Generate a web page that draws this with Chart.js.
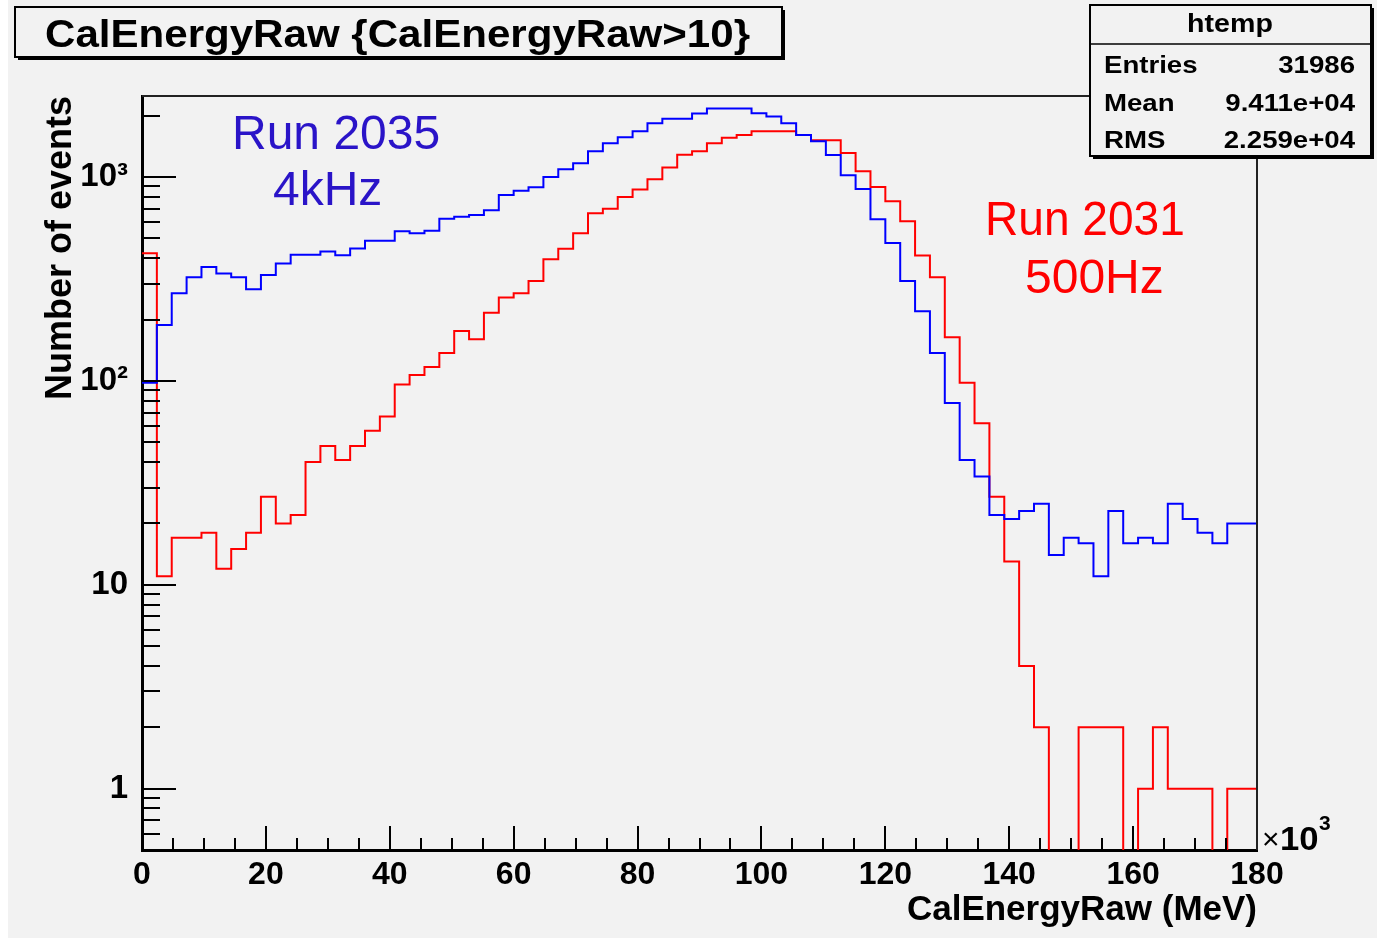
<!DOCTYPE html>
<html>
<head>
<meta charset="utf-8">
<script src="https://cdn.jsdelivr.net/npm/chart.js@4"></script>
<style>
  body { margin: 0; background: #fff; }
</style>
</head>
<body>
<canvas id="myChart" width="1377" height="941"></canvas>
<script>
// histogram range (x in units of 10^3 MeV) and y range
const xMin = 0, xMax = 180;
const yMin = 0.5, yMax = 2500;

// bin contents, 75 bins of 2.4 each
const run2035 = [98, 188, 269, 323, 362, 337, 323, 282, 331, 377,
  416, 416, 432, 414, 447, 487, 487, 543, 531, 545,
  625, 639, 651, 687, 816, 857, 893, 1000, 1094, 1171,
  1341, 1468, 1571, 1680, 1840, 1932, 1932, 2052, 2173, 2173,
  2173, 2060, 1983, 1840, 1611, 1500, 1282, 1021, 874, 622,
  475, 309, 220, 137, 78, 41, 34, 22, 21, 23,
  25, 14, 17, 16, 11, 23, 16, 17, 16, 25,
  21, 18, 16, 20, 20];
const run2031 = [423, 11, 17, 17, 18, 12, 15, 18, 27, 20,
  22, 40, 48, 41, 48, 57, 67, 96, 107, 117,
  137, 176, 160, 216, 257, 269, 309, 395, 445, 531,
  664, 699, 798, 870, 977, 1116, 1286, 1341, 1468, 1559,
  1611, 1680, 1680, 1680, 1611, 1518, 1518, 1312, 1068, 895,
  762, 608, 413, 323, 164, 98, 62, 27, 13, 4,
  2, 0, 0, 2, 2, 2, 0, 1, 2, 1,
  1, 1, 0, 1, 1];

const xTickLabels = [0, 20, 40, 60, 80, 100, 120, 140, 160, 180];
const yTickLabels = { 1: '1', 10: '10', 100: '10\u00B2', 1000: '10\u00B3' };

const statsRows = [['Entries', '31986'], ['Mean', '9.411e+04'], ['RMS', '2.259e+04']];

const FONT = '"Liberation Sans", Arial, Helvetica, sans-serif';

// histogram outline: one point per bin low edge, plus the upper edge
// empty bins go below the axis floor so the outline drops out of the frame
function toSteps(counts) {
  const w = (xMax - xMin) / counts.length;
  const pts = counts.map((n, i) => ({ x: xMin + i * w, y: n > 0 ? n : yMin / 5 }));
  pts.push({ x: xMax, y: pts[pts.length - 1].y });
  return pts;
}

function hText(c, str, x, y, font, align, sx) {
  c.save();
  c.font = font;
  c.textAlign = align;
  c.textBaseline = 'alphabetic';
  c.translate(x, y);
  c.scale(sx, 1);
  c.fillText(str, 0, 0);
  c.restore();
}

function shadowBox(c, x, y, w, h) {
  c.fillStyle = '#000';
  c.fillRect(x + 3, y + 3, w, h);
  c.fillStyle = '#f2f2f2';
  c.fillRect(x, y, w, h);
  c.lineWidth = 2;
  c.strokeStyle = '#000';
  c.strokeRect(x, y, w, h);
}

const rootDecor = {
  id: 'rootDecor',
  beforeDraw(chart) {
    const c = chart.ctx;
    c.save();
    c.fillStyle = '#ffffff';
    c.fillRect(0, 0, chart.width, chart.height);
    c.fillStyle = '#f2f2f2';
    c.fillRect(8, 0, chart.width - 8, 938);
    c.restore();
  },
  afterDraw(chart) {
    const c = chart.ctx, a = chart.chartArea;
    const xs = chart.scales.x, ys = chart.scales.y;
    c.save();
    c.strokeStyle = '#000';
    c.lineWidth = 2;

    // y ticks, inside the frame
    for (let d = -1; d <= 3; d++) {
      for (let m = 1; m < 10; m++) {
        const v = m * Math.pow(10, d);
        if (v <= yMin || v >= yMax) continue;
        const y = Math.round(ys.getPixelForValue(v));
        c.beginPath();
        c.moveTo(a.left, y);
        c.lineTo(a.left + (m === 1 ? 34 : 18), y);
        c.stroke();
      }
    }
    // x ticks
    for (let v = xMin + 5; v < xMax; v += 5) {
      const x = Math.round(xs.getPixelForValue(v));
      c.beginPath();
      c.moveTo(x, a.bottom);
      c.lineTo(x, a.bottom - (v % 20 === 0 ? 24 : 12));
      c.stroke();
    }
    // top and right frame
    c.strokeStyle = '#222';
    c.beginPath();
    c.moveTo(a.left, a.top);
    c.lineTo(a.right, a.top);
    c.lineTo(a.right, a.bottom);
    c.stroke();

    // x10^3
    c.fillStyle = '#000';
    hText(c, '\u00D7', a.right + 5, a.bottom - 1, '30px ' + FONT, 'left', 1);
    hText(c, '10', a.right + 23, a.bottom, 'bold 33px ' + FONT, 'left', 1.05);
    hText(c, '3', a.right + 62, a.bottom - 20, 'bold 20px ' + FONT, 'left', 1.05);

    // run labels
    c.fillStyle = '#2a14c8';
    hText(c, 'Run 2035', 232, 149, '48px ' + FONT, 'left', 1);
    hText(c, '4kHz', 273, 205, '48px ' + FONT, 'left', 1);
    c.fillStyle = '#ff0000';
    hText(c, 'Run 2031', 985, 235, '48px ' + FONT, 'left', 0.96);
    hText(c, '500Hz', 1025, 293, '48px ' + FONT, 'left', 1);

    // title box
    shadowBox(c, 15, 7, 767, 50);
    c.fillStyle = '#000';
    c.font = 'bold 39px ' + FONT;
    const t = 'CalEnergyRaw {CalEnergyRaw>10}';
    hText(c, t, 45, 47, 'bold 39px ' + FONT, 'left', 705 / c.measureText(t).width);

    // stats box
    shadowBox(c, 1090, 5, 281, 151);
    c.lineWidth = 1.5;
    c.beginPath();
    c.moveTo(1090, 44);
    c.lineTo(1371, 44);
    c.stroke();
    c.fillStyle = '#000';
    hText(c, 'htemp', 1230, 32, 'bold 26px ' + FONT, 'center', 1.1);
    statsRows.forEach((r, i) => {
      const y = 73 + i * 37.5;
      hText(c, r[0], 1104, y, 'bold 24px ' + FONT, 'left', 1.15);
      hText(c, r[1], 1355, y, 'bold 24px ' + FONT, 'right', 1.15);
    });
    c.restore();
  }
};

const ctx = document.getElementById('myChart');
const chart = new Chart(ctx, {
  type: 'line',
  data: {
    datasets: [
      {
        label: 'Run 2035 (4kHz)',
        data: toSteps(run2035),
        borderColor: '#0000ff',
        borderWidth: 2,
        stepped: true,
        pointRadius: 0,
        fill: false
      },
      {
        label: 'Run 2031 (500Hz)',
        data: toSteps(run2031),
        borderColor: '#ff0000',
        borderWidth: 2,
        stepped: true,
        pointRadius: 0,
        fill: false
      }
    ]
  },
  options: {
    responsive: false,
    animation: false,
    devicePixelRatio: 1,
    layout: { padding: { top: 96, right: 120, left: 0, bottom: 0 } },
    plugins: {
      legend: { display: false },
      tooltip: { enabled: false },
      title: { display: false }
    },
    scales: {
      x: {
        type: 'linear',
        min: xMin,
        max: xMax,
        afterFit(s) { s.height = 91; },
        grid: { drawOnChartArea: false, drawTicks: false },
        border: { display: true, color: '#000', width: 3 },
        ticks: {
          stepSize: 5,
          autoSkip: false,
          maxRotation: 0,
          padding: 6,
          color: '#000',
          font: { family: FONT, size: 32, weight: 'bold' },
          callback: (v) => xTickLabels.includes(v) ? String(v) : ''
        },
        title: {
          display: true,
          text: 'CalEnergyRaw (MeV)',
          align: 'end',
          color: '#000',
          font: { family: FONT, size: 35, weight: 'bold' },
          padding: { top: 0, bottom: 10 }
        }
      },
      y: {
        type: 'logarithmic',
        min: yMin,
        max: yMax,
        afterFit(s) { s.width = 142; },
        grid: { drawOnChartArea: false, drawTicks: false },
        border: { display: true, color: '#000', width: 3 },
        ticks: {
          autoSkip: false,
          padding: 14,
          color: '#000',
          font: { family: FONT, size: 33, weight: 'bold' },
          callback: (v) => yTickLabels[v] || ''
        },
        title: {
          display: true,
          text: 'Number of events',
          align: 'end',
          color: '#000',
          font: { family: FONT, size: 36, weight: 'bold' },
          padding: { top: 39, bottom: 0 }
        }
      }
    }
  },
  plugins: [rootDecor]
});
</script>
</body>
</html>
